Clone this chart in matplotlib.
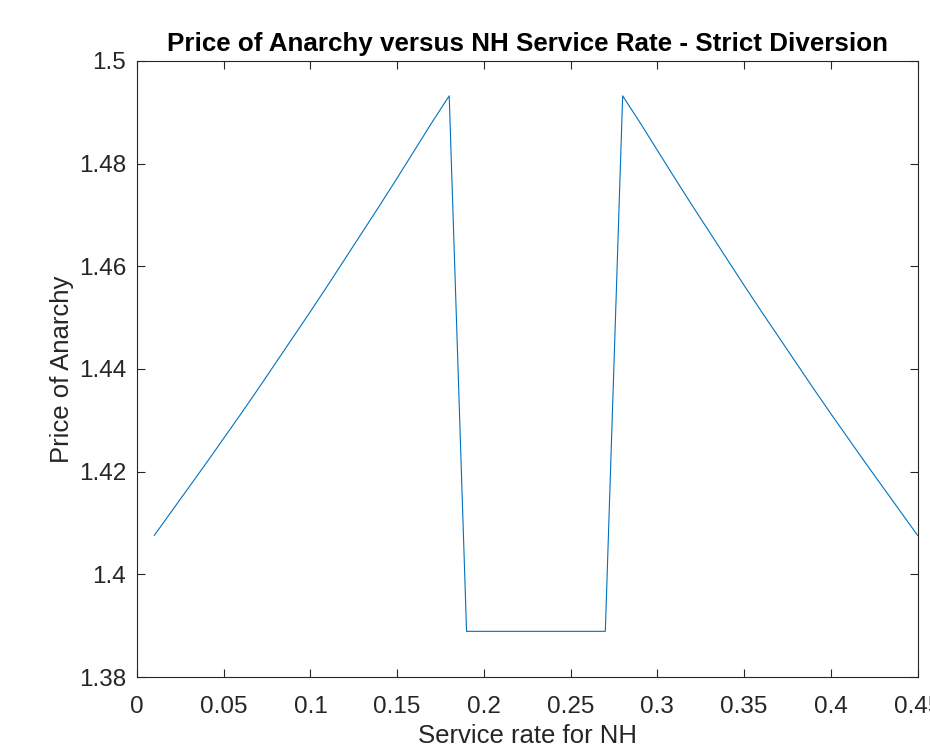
import matplotlib
matplotlib.use("Agg")
import matplotlib.pyplot as plt
from matplotlib.ticker import FuncFormatter

# Service rate for NH and the price of anarchy
service_rate = [0.01, 0.02, 0.03, 0.04, 0.05, 0.06, 0.07, 0.08, 0.09, 0.10,
                0.11, 0.12, 0.13, 0.14, 0.15, 0.16, 0.17, 0.18,
                0.19, 0.20, 0.21, 0.22, 0.23, 0.24, 0.25, 0.26, 0.27,
                0.28, 0.29, 0.30, 0.31, 0.32, 0.33, 0.34, 0.35, 0.36,
                0.37, 0.38, 0.39, 0.40, 0.41, 0.42, 0.43, 0.44, 0.45]
poa = [1.4076, 1.4123, 1.4170, 1.4217, 1.4265, 1.4313, 1.4362, 1.4412, 1.4462, 1.4512,
       1.4563, 1.4615, 1.4667, 1.4719, 1.4772, 1.4826, 1.4880, 1.4932,
       1.3889, 1.3889, 1.3889, 1.3889, 1.3889, 1.3889, 1.3889, 1.3889, 1.3889,
       1.4932, 1.4880, 1.4826, 1.4772, 1.4719, 1.4667, 1.4615, 1.4563, 1.4512,
       1.4462, 1.4412, 1.4362, 1.4313, 1.4265, 1.4217, 1.4170, 1.4123, 1.4076]

x_ticks = [0, 0.05, 0.1, 0.15, 0.2, 0.25, 0.3, 0.35, 0.4, 0.45]
y_ticks = [1.38, 1.4, 1.42, 1.44, 1.46, 1.48, 1.5]

plt.rcParams["font.family"] = ["Liberation Sans", "DejaVu Sans"]

fig = plt.figure(figsize=(9.3, 7.49), dpi=100)
ax = fig.add_axes([0.1473, 0.0961, 0.8393, 0.8225])

ax.plot(service_rate, poa, color="#0072BD", linewidth=0.8)

ax.set_xlim(0, 0.45)
ax.set_ylim(1.38, 1.5)
ax.set_xticks(x_ticks)
ax.set_yticks(y_ticks)
ax.xaxis.set_major_formatter(FuncFormatter(lambda v, p: f"{v:g}"))
ax.yaxis.set_major_formatter(FuncFormatter(lambda v, p: f"{v:g}"))

# MATLAB-ish box: ticks inside on all four sides
ax.tick_params(direction="in", top=True, right=True, length=6, width=0.8,
               labelsize=17.5, colors="#262626", pad=8)
ax.tick_params(axis="x", pad=14)
for s in ax.spines.values():
    s.set_color("#262626")
    s.set_linewidth(0.8)

ax.set_title("Price of Anarchy versus NH Service Rate - Strict Diversion",
             fontsize=18.7, fontweight="bold", pad=7)
ax.set_xlabel("Service rate for NH", fontsize=18.5, color="#262626", labelpad=4)
ax.set_ylabel("Price of Anarchy", fontsize=18.5, color="#262626", labelpad=3)

fig.savefig("out.png", dpi=100)
